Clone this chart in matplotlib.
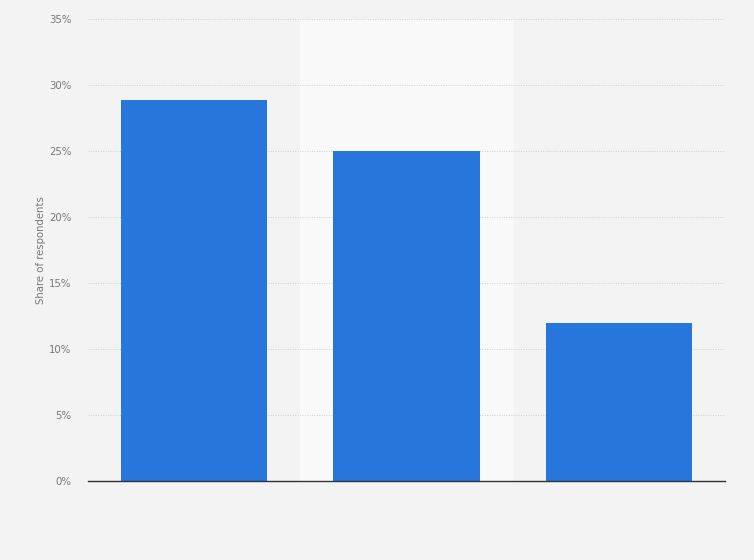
import matplotlib.pyplot as plt
import numpy as np

categories = ["A", "B", "C"]
shares = [28.9, 25, 12]
y_ticks = [0, 5, 10, 15, 20, 25, 30, 35]

fig = plt.figure(figsize=(7.54, 5.6), dpi=100)
fig.patch.set_facecolor("#f3f3f3")
ax = fig.add_axes([88 / 754, 79 / 560, 637 / 754, 462 / 560])
ax.set_facecolor("#f3f3f3")

x = np.arange(len(categories))
# lighter band behind the middle column
ax.axvspan(0.5, 1.5, color="#f9f9f9", zorder=0)

ax.bar(x, shares, width=0.69, color="#2776db", zorder=3)

ax.set_xlim(-0.5, len(categories) - 0.5)
ax.set_ylim(0, 35)
ax.set_yticks(y_ticks)
ax.set_yticklabels([f"{t}%" for t in y_ticks])
ax.set_xticks([])
ax.yaxis.grid(True, linestyle=(0, (1, 1.5)), color="#cdcdcd", linewidth=0.7, zorder=1)
ax.tick_params(axis="y", length=0, labelsize=7.3, labelcolor="#777777", pad=12)

for side in ["top", "right", "left"]:
    ax.spines[side].set_visible(False)
ax.spines["bottom"].set_color("#333333")
ax.spines["bottom"].set_linewidth(1)
ax.spines["bottom"].set_zorder(4)

ax.set_ylabel("Share of respondents", fontsize=7.3, color="#777777", labelpad=2)

fig.savefig("out.png", dpi=100, facecolor=fig.get_facecolor())
